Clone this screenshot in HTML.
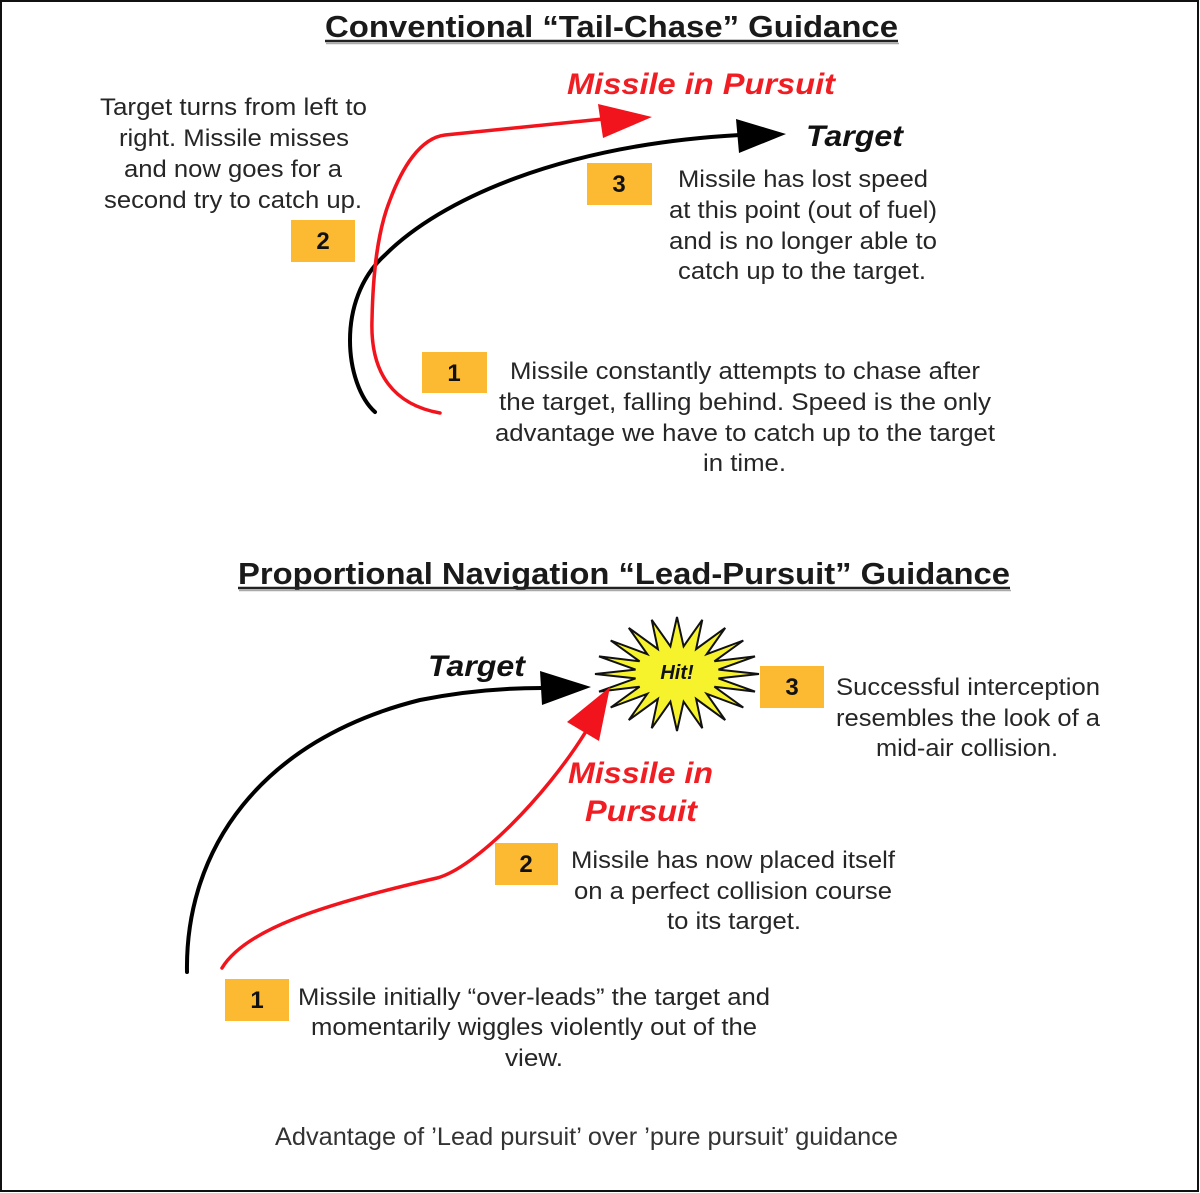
<!DOCTYPE html>
<html>
<head>
<meta charset="utf-8">
<style>
html,body{margin:0;padding:0;background:#fff;}
body{width:1200px;height:1193px;overflow:hidden;}
svg{display:block;}
.t{font-family:"Liberation Sans",Arial,sans-serif;font-size:24px;fill:#262626;}
.h{font-family:"Liberation Sans",Arial,sans-serif;font-size:31px;font-weight:bold;fill:#1a1a1a;}
.r{font-family:"Liberation Sans",Arial,sans-serif;font-size:30px;font-weight:bold;font-style:italic;fill:#f01d23;}
.k{font-family:"Liberation Sans",Arial,sans-serif;font-size:30px;font-weight:bold;font-style:italic;fill:#111;}
.n{font-family:"Liberation Sans",Arial,sans-serif;font-size:24px;font-weight:bold;fill:#111;}
.c{font-family:"Liberation Sans",Arial,sans-serif;font-size:25px;fill:#333;}
</style>
</head>
<body>
<svg width="1200" height="1193" viewBox="0 0 1200 1193" xmlns="http://www.w3.org/2000/svg">
<rect x="1" y="1" width="1197" height="1190" fill="#fff" stroke="#111" stroke-width="2"/>

<!-- ===== Top section ===== -->
<text class="h" x="325" y="37" textLength="573" lengthAdjust="spacingAndGlyphs">Conventional “Tail-Chase” Guidance</text>
<line x1="325" y1="41" x2="898" y2="41" stroke="#222" stroke-width="2.5"/>
<line x1="326" y1="43.5" x2="899" y2="43.5" stroke="#aaa" stroke-width="1.5"/>

<text class="r" x="567" y="94" textLength="268" lengthAdjust="spacingAndGlyphs">Missile in Pursuit</text>
<text class="k" x="806" y="146" textLength="97" lengthAdjust="spacingAndGlyphs">Target</text>

<!-- black curve top -->
<path d="M375,412 C345,385 335,300 385,255 C440,200 560,145 740,135" fill="none" stroke="#000" stroke-width="4" stroke-linecap="round"/>
<polygon points="736,119 786,134 739,153" fill="#000"/>

<!-- red curve top -->
<path d="M440,413 C395,405 370,375 372,320 C373,270 378,230 390,200 C402,168 420,138 445,135 L603,119" fill="none" stroke="#f2141c" stroke-width="3.5" stroke-linecap="round"/>
<polygon points="598,104 652,117 603,138" fill="#f2141c"/>

<text class="t" x="100" y="115" textLength="267" lengthAdjust="spacingAndGlyphs">Target turns from left to</text>
<text class="t" x="119" y="146" textLength="230" lengthAdjust="spacingAndGlyphs">right. Missile misses</text>
<text class="t" x="124" y="177" textLength="218" lengthAdjust="spacingAndGlyphs">and now goes for a</text>
<text class="t" x="104" y="208" textLength="258" lengthAdjust="spacingAndGlyphs">second try to catch up.</text>

<rect x="291" y="220" width="64" height="42" fill="#fbba31"/>
<text class="n" x="323" y="249" text-anchor="middle">2</text>

<rect x="587" y="163" width="65" height="42" fill="#fbba31"/>
<text class="n" x="619" y="192" text-anchor="middle">3</text>

<text class="t" x="678" y="187" textLength="250" lengthAdjust="spacingAndGlyphs">Missile has lost speed</text>
<text class="t" x="669" y="218" textLength="268" lengthAdjust="spacingAndGlyphs">at this point (out of fuel)</text>
<text class="t" x="669" y="249" textLength="268" lengthAdjust="spacingAndGlyphs">and is no longer able to</text>
<text class="t" x="678" y="279" textLength="248" lengthAdjust="spacingAndGlyphs">catch up to the target.</text>

<rect x="422" y="352" width="65" height="41" fill="#fbba31"/>
<text class="n" x="454" y="381" text-anchor="middle">1</text>

<text class="t" x="510" y="379" textLength="470" lengthAdjust="spacingAndGlyphs">Missile constantly attempts to chase after</text>
<text class="t" x="499" y="410" textLength="492" lengthAdjust="spacingAndGlyphs">the target, falling behind.  Speed is the only</text>
<text class="t" x="495" y="441" textLength="500" lengthAdjust="spacingAndGlyphs">advantage we have to catch up to the target</text>
<text class="t" x="703" y="471" textLength="83" lengthAdjust="spacingAndGlyphs">in time.</text>

<!-- ===== Bottom section ===== -->
<text class="h" x="238" y="584" textLength="772" lengthAdjust="spacingAndGlyphs">Proportional Navigation “Lead-Pursuit” Guidance</text>
<line x1="238" y1="588" x2="1010" y2="588" stroke="#222" stroke-width="2.5"/>
<line x1="239" y1="590.5" x2="1011" y2="590.5" stroke="#aaa" stroke-width="1.5"/>

<text class="k" x="428" y="676" textLength="97" lengthAdjust="spacingAndGlyphs">Target</text>

<!-- black curve bottom -->
<path d="M187,972 C185,850 260,740 420,700 C470,690 510,688 542,688" fill="none" stroke="#000" stroke-width="4" stroke-linecap="round"/>
<polygon points="540,671 591,687 542,705" fill="#000"/>

<!-- starburst -->
<polygon points="759,674 718.5,678.4 755,691.6 714.4,686.7 743.3,707.5 706.7,693.8 725.2,720.1 696.1,698.9 702.3,728.2 683.6,701.7 677,731 670.4,701.7 651.7,728.2 657.9,698.9 628.8,720.1 647.3,693.8 610.7,707.5 639.6,686.7 599,691.6 635.5,678.4 595,674 635.5,669.6 599,656.4 639.6,661.3 610.7,640.5 647.3,654.2 628.8,627.9 657.9,649.1 651.7,619.8 670.4,646.3 677,617 683.6,646.3 702.3,619.8 696.1,649.1 725.2,627.9 706.7,654.2 743.3,640.5 714.4,661.3 755,656.4 718.5,669.6" fill="#f6f32c" stroke="#111" stroke-width="2" stroke-linejoin="miter"/>
<text x="677" y="679" text-anchor="middle" font-family="Liberation Sans, Arial, sans-serif" font-size="20" font-weight="bold" font-style="italic" fill="#111">Hit!</text>

<!-- red curve bottom -->
<path d="M222,968 C245,930 320,905 437,878 C475,868 545,797 585,733" fill="none" stroke="#f2141c" stroke-width="3.5" stroke-linecap="round"/>
<polygon points="567,722 610,687 599,741" fill="#f2141c"/>

<text class="r" x="568" y="783" textLength="145" lengthAdjust="spacingAndGlyphs">Missile in</text>
<text class="r" x="585" y="821" textLength="112" lengthAdjust="spacingAndGlyphs">Pursuit</text>

<rect x="760" y="666" width="64" height="42" fill="#fbba31"/>
<text class="n" x="792" y="695" text-anchor="middle">3</text>

<text class="t" x="836" y="695" textLength="264" lengthAdjust="spacingAndGlyphs">Successful interception</text>
<text class="t" x="836" y="726" textLength="264" lengthAdjust="spacingAndGlyphs">resembles the look of a</text>
<text class="t" x="876" y="756" textLength="182" lengthAdjust="spacingAndGlyphs">mid-air collision.</text>

<rect x="495" y="843" width="63" height="42" fill="#fbba31"/>
<text class="n" x="526" y="872" text-anchor="middle">2</text>

<text class="t" x="571" y="868" textLength="324" lengthAdjust="spacingAndGlyphs">Missile has now placed itself</text>
<text class="t" x="574" y="899" textLength="318" lengthAdjust="spacingAndGlyphs">on a perfect collision course</text>
<text class="t" x="667" y="929" textLength="134" lengthAdjust="spacingAndGlyphs">to its target.</text>

<rect x="225" y="979" width="64" height="42" fill="#fbba31"/>
<text class="n" x="257" y="1008" text-anchor="middle">1</text>

<text class="t" x="298" y="1005" textLength="472" lengthAdjust="spacingAndGlyphs">Missile initially “over-leads” the target and</text>
<text class="t" x="311" y="1035" textLength="446" lengthAdjust="spacingAndGlyphs">momentarily wiggles violently out of the</text>
<text class="t" x="505" y="1066" textLength="58" lengthAdjust="spacingAndGlyphs">view.</text>

<!-- caption -->
<text class="c" x="275" y="1145" textLength="623" lengthAdjust="spacingAndGlyphs">Advantage of ’Lead pursuit’ over ’pure pursuit’ guidance</text>
</svg>
</body>
</html>
